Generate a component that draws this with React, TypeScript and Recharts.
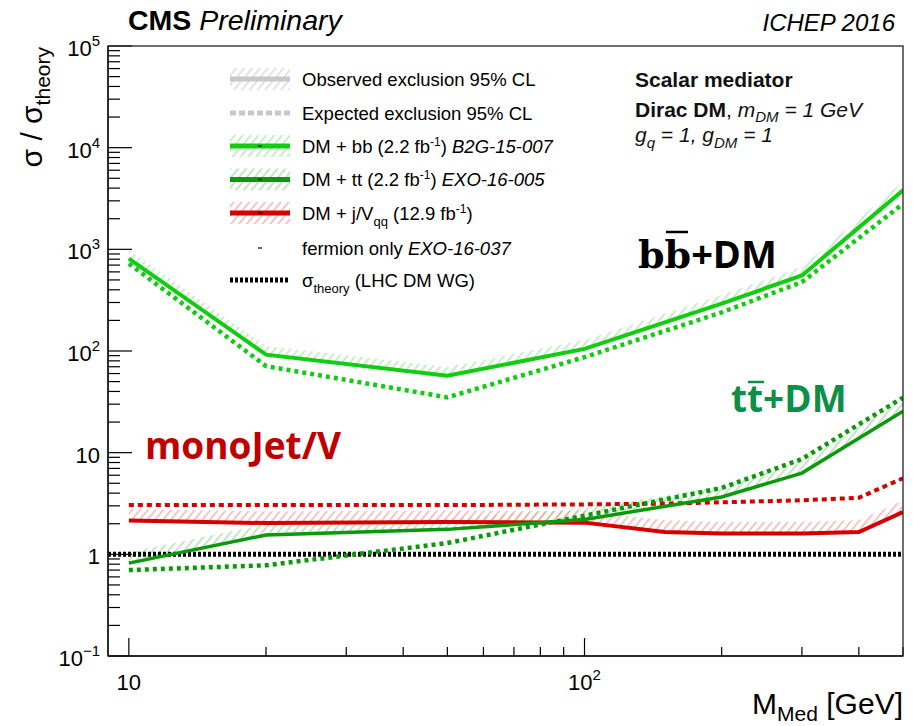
import React from 'react';
import { ComposedChart, Line, Area, XAxis, YAxis, ReferenceLine } from 'recharts';

// Mediator mass points [GeV]
const MASSES = [10, 20, 50, 100, 150, 200, 300, 400, 500];

// sigma / sigma_theory limits (null = no point at that mass)
const BB_OBS = [810, 92, 57, 105, null, 292, 554, null, 3800];
const BB_EXP = [724, 71, 35, 87, null, 240, 476, null, 2800];
const TT_OBS = [0.82, 1.55, 1.76, 2.2, null, 3.66, 6.3, null, 25.6];
const TT_EXP = [0.7, 0.78, 1.29, 2.4, null, 4.5, 8.65, null, 34.8];
const MONO_OBS = [2.15, 2.03, 2.08, 2.05, 1.66, 1.6, 1.6, 1.66, 2.6];
const MONO_EXP = [3.05, 3.05, 3.05, 3.1, 3.15, 3.25, 3.4, 3.6, 5.6];
const THEORY = 1;

// axis ticks
const X_TICKS = [10, 20, 30, 40, 50, 60, 70, 80, 90, 100, 200, 300, 400, 500];
const X_MAJOR = [10, 100];
const X_LABELS = [['10', ''], ['10', '2']];
const Y_MAJOR = [0.1, 1, 10, 100, 1000, 10000, 100000];
const Y_LABELS = [['10', '\u22121'], ['1', ''], ['10', ''], ['10', '2'], ['10', '3'], ['10', '4'], ['10', '5']];
const Y_TICKS = [
  ...Y_MAJOR,
  ...[0.1, 1, 10, 100, 1000, 10000].flatMap((d) => [2, 3, 4, 5, 6, 7, 8, 9].map((k) => k * d)),
];

// hatched exclusion side, as a multiplicative band above the observed curve
const BB_BAND = 1.22;
const TT_BAND = 1.28;
const MONO_BAND = 1.3;

const band = (v: number | null, f: number) => (v == null ? null : [v, v * f]);

const rows = MASSES.map((m, i) => ({
  m,
  bbObs: BB_OBS[i],
  bbExp: BB_EXP[i],
  bbBand: band(BB_OBS[i], BB_BAND),
  ttObs: TT_OBS[i],
  ttExp: TT_EXP[i],
  ttBand: band(TT_OBS[i], TT_BAND),
  monoObs: MONO_OBS[i],
  monoExp: MONO_EXP[i],
  monoBand: band(MONO_OBS[i], MONO_BAND),
}));

const W = 913;
const H = 726;
const PLOT = { left: 108, top: 46, right: 903, bottom: 656 };
const FONT = '"Liberation Sans", Arial, Helvetica, sans-serif';

const C_BB = '#11cc11';
const C_TT = '#0a990a';
const C_MONO = '#d40000';

function YTick(props: any) {
  const { y, payload } = props;
  const i = Y_MAJOR.indexOf(payload.value);
  const major = i >= 0;
  return (
    <g>
      <line x1={PLOT.left} x2={PLOT.left + (major ? 24 : 12)} y1={y} y2={y} stroke="#000" strokeWidth={1.2} />
      {major && (
        <text x={100} y={y + 10} textAnchor="end" fontSize={22} fontFamily={FONT} fill="#000">
          {Y_LABELS[i][0]}
          {Y_LABELS[i][1] && (
            <tspan dy={-10} fontSize={15}>
              {Y_LABELS[i][1]}
            </tspan>
          )}
        </text>
      )}
    </g>
  );
}

function XTick(props: any) {
  const { x, payload } = props;
  const i = X_MAJOR.indexOf(payload.value);
  const major = i >= 0;
  return (
    <g>
      <line x1={x} x2={x} y1={PLOT.bottom} y2={PLOT.bottom - (major ? 18 : 9)} stroke="#000" strokeWidth={1.2} />
      {major && (
        <text x={x} y={690} textAnchor="middle" fontSize={22} fontFamily={FONT} fill="#000">
          {X_LABELS[i][0]}
          {X_LABELS[i][1] && (
            <tspan dy={-10} fontSize={15}>
              {X_LABELS[i][1]}
            </tspan>
          )}
        </text>
      )}
    </g>
  );
}

function Hatch({ id, color }: { id: string; color: string }) {
  return (
    <pattern id={id} patternUnits="userSpaceOnUse" width={6} height={6} patternTransform="rotate(40)">
      <line x1={3} y1={0} x2={3} y2={6} stroke={color} strokeWidth={1.3} />
    </pattern>
  );
}

// legend rows: swatch from x=230 to 290, text at x=302
function Swatch({ y, color, hatch, dash, marker }: any) {
  return (
    <g>
      {hatch && <rect x={230} y={y - 11} width={60} height={22} fill={`url(#${hatch})`} />}
      {color && <line x1={230} x2={290} y1={y} y2={y} stroke={color} strokeWidth={5} strokeDasharray={dash} />}
      {marker && <line x1={258} x2={262} y1={y} y2={y} stroke="#000" strokeWidth={1.2} />}
    </g>
  );
}

export default function App() {
  const legendY = [79, 113, 146, 179.5, 213, 248, 280];
  const lt = (i: number) => legendY[i] + 6.5;
  return (
    <div style={{ position: 'absolute', left: 0, top: 0, width: W, height: H, background: '#fff' }}>
      <svg width={0} height={0} style={{ position: 'absolute' }}>
        <defs>
          <Hatch id="hatch-bb" color="#a9e6a9" />
          <Hatch id="hatch-tt" color="#a3d8a3" />
          <Hatch id="hatch-mono" color="#f0a4a4" />
          <Hatch id="hatch-gray" color="#d6d6d6" />
        </defs>
      </svg>
      <ComposedChart width={W} height={H} data={rows} margin={{ top: PLOT.top, right: W - PLOT.right, bottom: 30, left: 0 }}>
        <XAxis
          dataKey="m"
          type="number"
          scale="log"
          domain={[9, 500]}
          allowDataOverflow
          ticks={X_TICKS}
          interval={0}
          tick={<XTick />}
          tickLine={false}
          axisLine={{ stroke: '#000', strokeWidth: 1.5 }}
          height={H - 30 - PLOT.bottom}
        />
        <YAxis
          type="number"
          scale="log"
          domain={[0.1, 100000]}
          allowDataOverflow
          ticks={Y_TICKS}
          interval={0}
          tick={<YTick />}
          tickLine={false}
          axisLine={{ stroke: '#000', strokeWidth: 1.5 }}
          width={PLOT.left}
        />
        <Area dataKey="bbBand" stroke="none" fill="url(#hatch-bb)" fillOpacity={1} connectNulls isAnimationActive={false} />
        <Area dataKey="ttBand" stroke="none" fill="url(#hatch-tt)" fillOpacity={1} connectNulls isAnimationActive={false} />
        <Area dataKey="monoBand" stroke="none" fill="url(#hatch-mono)" fillOpacity={1} connectNulls isAnimationActive={false} />
        <ReferenceLine y={THEORY} stroke="#000" strokeWidth={5} strokeDasharray="3 2" />
        <Line dataKey="monoExp" stroke={C_MONO} strokeWidth={4} strokeDasharray="5 4" dot={false} connectNulls isAnimationActive={false} />
        <Line dataKey="monoObs" stroke={C_MONO} strokeWidth={4} dot={false} connectNulls isAnimationActive={false} />
        <Line dataKey="ttExp" stroke={C_TT} strokeWidth={4.5} strokeDasharray="4 4" dot={false} connectNulls isAnimationActive={false} />
        <Line dataKey="ttObs" stroke={C_TT} strokeWidth={3.5} dot={false} connectNulls isAnimationActive={false} />
        <Line dataKey="bbExp" stroke={C_BB} strokeWidth={4.5} strokeDasharray="4 4" dot={false} connectNulls isAnimationActive={false} />
        <Line dataKey="bbObs" stroke={C_BB} strokeWidth={4} dot={false} connectNulls isAnimationActive={false} />
      </ComposedChart>

      <svg width={W} height={H} style={{ position: 'absolute', left: 0, top: 0, pointerEvents: 'none' }} fontFamily={FONT}>
        {/* frame */}
        <rect x={PLOT.left} y={PLOT.top} width={PLOT.right - PLOT.left} height={PLOT.bottom - PLOT.top} fill="none" stroke="#222" strokeWidth={1.3} />

        {/* header */}
        <text x={128} y={30} fontSize={28.5} fill="#000">
          <tspan fontWeight="bold">CMS</tspan>
          <tspan fontStyle="italic"> Preliminary</tspan>
        </text>
        <text x={895} y={31} fontSize={24} fontStyle="italic" textAnchor="end" fill="#000">
          ICHEP 2016
        </text>

        {/* axis titles */}
        <text transform="translate(42,47) rotate(-90)" textAnchor="end" fontSize={30} fill="#000">
          σ / σ<tspan fontSize={21} dy={8}>theory</tspan>
        </text>
        <text x={903} y={714} textAnchor="end" fontSize={30} fill="#000">
          M<tspan fontSize={21} dy={7}>Med</tspan>
          <tspan dy={-7}> [GeV]</tspan>
        </text>

        {/* legend */}
        <Swatch y={legendY[0]} color="#c8c8c8" hatch="hatch-gray" />
        <Swatch y={legendY[1]} color="#c8c8c8" dash="6 3" />
        <Swatch y={legendY[2]} color={C_BB} hatch="hatch-bb" marker />
        <Swatch y={legendY[3]} color={C_TT} hatch="hatch-tt" marker />
        <Swatch y={legendY[4]} color={C_MONO} hatch="hatch-mono" marker />
        <Swatch y={legendY[5]} marker />
        <Swatch y={legendY[6]} color="#000" dash="3 2" />
        <g fontSize={18.5} fill="#000">
          <text x={302} y={lt(0)}>Observed exclusion 95% CL</text>
          <text x={302} y={lt(1)}>Expected exclusion 95% CL</text>
          <text x={302} y={lt(2)}>
            DM + bb (2.2 fb<tspan dy={-7} fontSize={12}>-1</tspan>
            <tspan dy={7}>) </tspan>
            <tspan fontStyle="italic">B2G-15-007</tspan>
          </text>
          <text x={302} y={lt(3)}>
            DM + tt (2.2 fb<tspan dy={-7} fontSize={12}>-1</tspan>
            <tspan dy={7}>) </tspan>
            <tspan fontStyle="italic">EXO-16-005</tspan>
          </text>
          <text x={302} y={lt(4)}>
            DM + j/V<tspan dy={6} fontSize={13}>qq</tspan>
            <tspan dy={-6}> (12.9 fb</tspan>
            <tspan dy={-7} fontSize={12}>-1</tspan>
            <tspan dy={7}>)</tspan>
          </text>
          <text x={302} y={lt(5)}>
            fermion only <tspan fontStyle="italic">EXO-16-037</tspan>
          </text>
          <text x={302} y={lt(6)}>
            σ<tspan dy={6} fontSize={13}>theory</tspan>
            <tspan dy={-6}> (LHC DM WG)</tspan>
          </text>
        </g>

        {/* model description */}
        <g fontSize={21} fill="#111">
          <text x={635} y={87} fontWeight="bold">Scalar mediator</text>
          <text x={635} y={117}>
            <tspan fontWeight="bold">Dirac DM</tspan>,{' '}
            <tspan fontStyle="italic">m</tspan>
            <tspan fontStyle="italic" fontSize={15} dy={5}>DM</tspan>
            <tspan fontStyle="italic" dy={-5}> = 1 GeV</tspan>
          </text>
          <text x={635} y={142} fontStyle="italic">
            g<tspan fontSize={15} dy={6}>q</tspan>
            <tspan dy={-6}> = 1, g</tspan>
            <tspan fontSize={15} dy={6}>DM</tspan>
            <tspan dy={-6}> = 1</tspan>
          </text>
        </g>

        {/* process labels (anti-quark bars drawn as short strokes) */}
        <text x={638} y={268} fontSize={38} fontWeight="bold" fill="#000">
          <tspan fontFamily="DejaVu Serif">bb</tspan>
          <tspan fontFamily='"Open Sans"'>+DM</tspan>
        </text>
        <line x1={666} x2={688} y1={232} y2={232} stroke="#000" strokeWidth={2.5} />
        <text x={731} y={412} fontSize={37} fontWeight="bold" fill="#0d8f47" fontFamily='"Open Sans"'>
          tt+DM
        </text>
        <line x1={748} x2={764} y1={382} y2={382} stroke="#0d8f47" strokeWidth={2.5} />
        <text x={145} y={459} fontSize={37} fontWeight="bold" fill="#c00000" fontFamily='"Open Sans"'>
          monoJet/V
        </text>
      </svg>
    </div>
  );
}
